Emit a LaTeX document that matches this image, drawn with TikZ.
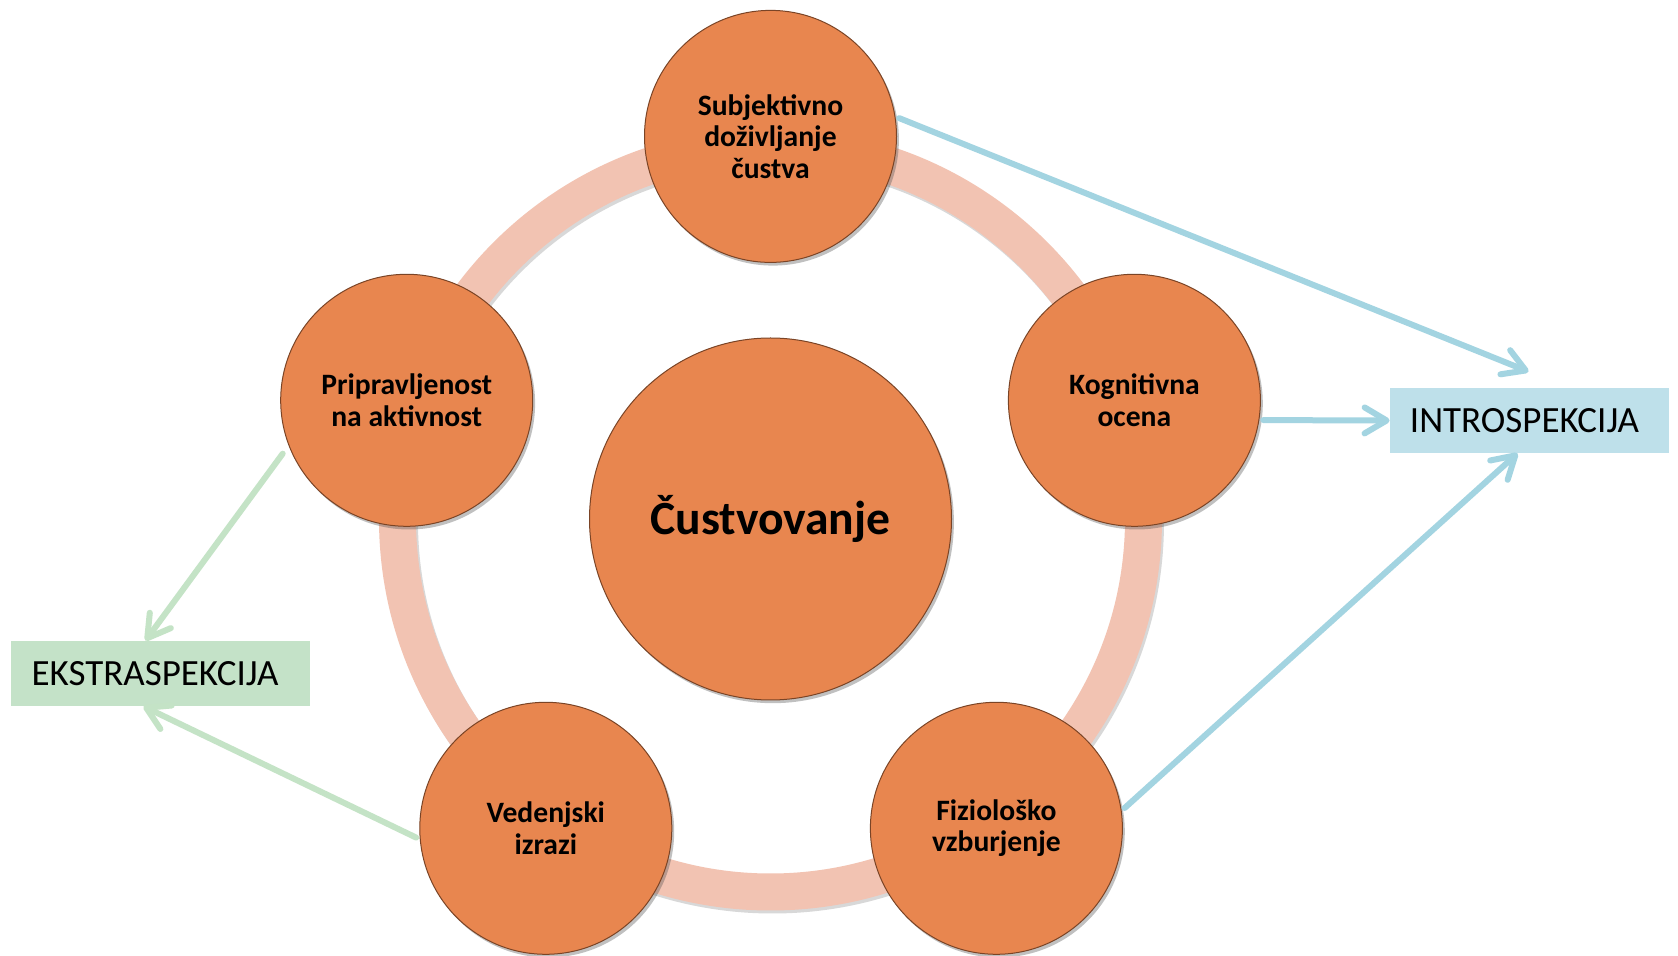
\documentclass[tikz,border=0pt]{standalone}
\usepackage{fontspec}
\setmainfont{Carlito}
\usetikzlibrary{arrows.meta,shadows,calc}
\definecolor{orangeC}{HTML}{E8864F}
\definecolor{borderC}{HTML}{7A4426}
\definecolor{ringC}{HTML}{F2C3B2}
\definecolor{blueL}{HTML}{A3D4E1}
\definecolor{blueB}{HTML}{BEE0EA}
\definecolor{greenL}{HTML}{C4E3C6}
\definecolor{greenB}{HTML}{C4E2C8}
\begin{document}
\begin{tikzpicture}[x=0.5pt,y=-0.5pt,
  shad/.style={drop shadow={shadow xshift=1.2pt,shadow yshift=-1.6pt,opacity=0.35,fill=black!70}},
  bubble/.style={circle,fill=orangeC,draw=borderC,line width=0.5pt,minimum size=126pt,inner sep=0pt,align=center,
    font=\bfseries\fontsize{14.8}{15.8}\selectfont,shad},
  bigbubble/.style={bubble,minimum size=181pt,font=\bfseries\fontsize{23.8}{26}\selectfont},
  labelbox/.style={rectangle,minimum width=139.5pt,minimum height=32.5pt,inner sep=0pt,font=\fontsize{18.5}{20}\selectfont},
  bluearrow/.style={draw=blueL,line width=3pt,line cap=round,-{Straight Barb[length=11pt,width=13pt,round]}},
  greenarrow/.style={draw=greenL,line width=3pt,line cap=round,-{Straight Barb[length=11pt,width=13pt,round]}}]
\useasboundingbox (0,0) rectangle (1678,956);
\fill[white] (0,0) rectangle (1678,956);
% ring
\coordinate (ctr) at (770.5,519);
\draw[black!30,opacity=0.5,line width=18.5pt] ($(ctr)+(2,3)$) circle[radius=186.5pt];
\draw[ringC,line width=18.5pt] (ctr) circle[radius=186.5pt];
% circles
\node[bigbubble] (cust) at (ctr) {Čustvovanje};
\node[bubble] (sub) at (770.5,136.4) {Subjektivno\\doživljanje\\čustva};
\node[bubble] (kog) at (1134.4,400.3) {Kognitivna\\ocena};
\node[bubble] (fiz) at (996.4,828.3) {Fiziološko\\vzburjenje};
\node[bubble] (ved) at (545.8,828.3) {Vedenjski\\izrazi};
\node[bubble] (pri) at (406.7,400.3) {Pripravljenost\\na aktivnost};
% boxes
\node[labelbox,fill=blueB,minimum width=139.5pt] (intro) at (1529.5,420.5) {\hspace*{-5pt}INTROSPEKCIJA};
\node[labelbox,fill=greenB,minimum width=149.5pt] (ekstra) at (160.5,673.5) {\hspace*{-5.5pt}EKSTRASPEKCIJA};
% arrows
\draw[bluearrow,shorten <=2pt] (sub.9) -- ($(intro.north)+(-1,-16)$);
\draw[bluearrow,shorten <=2pt] (kog.-9) -- (intro.west);
\draw[bluearrow,shorten <=2pt] (fiz.8) -- ($(intro.south)+(-12,0)$);
\draw[greenarrow,shorten <=5pt] (pri.201) -- ($(ekstra.north)+(-15,0)$);
\draw[greenarrow,shorten <=2pt] (ved.185) -- ($(ekstra.south)+(-17,0)$);
\end{tikzpicture}
\end{document}
